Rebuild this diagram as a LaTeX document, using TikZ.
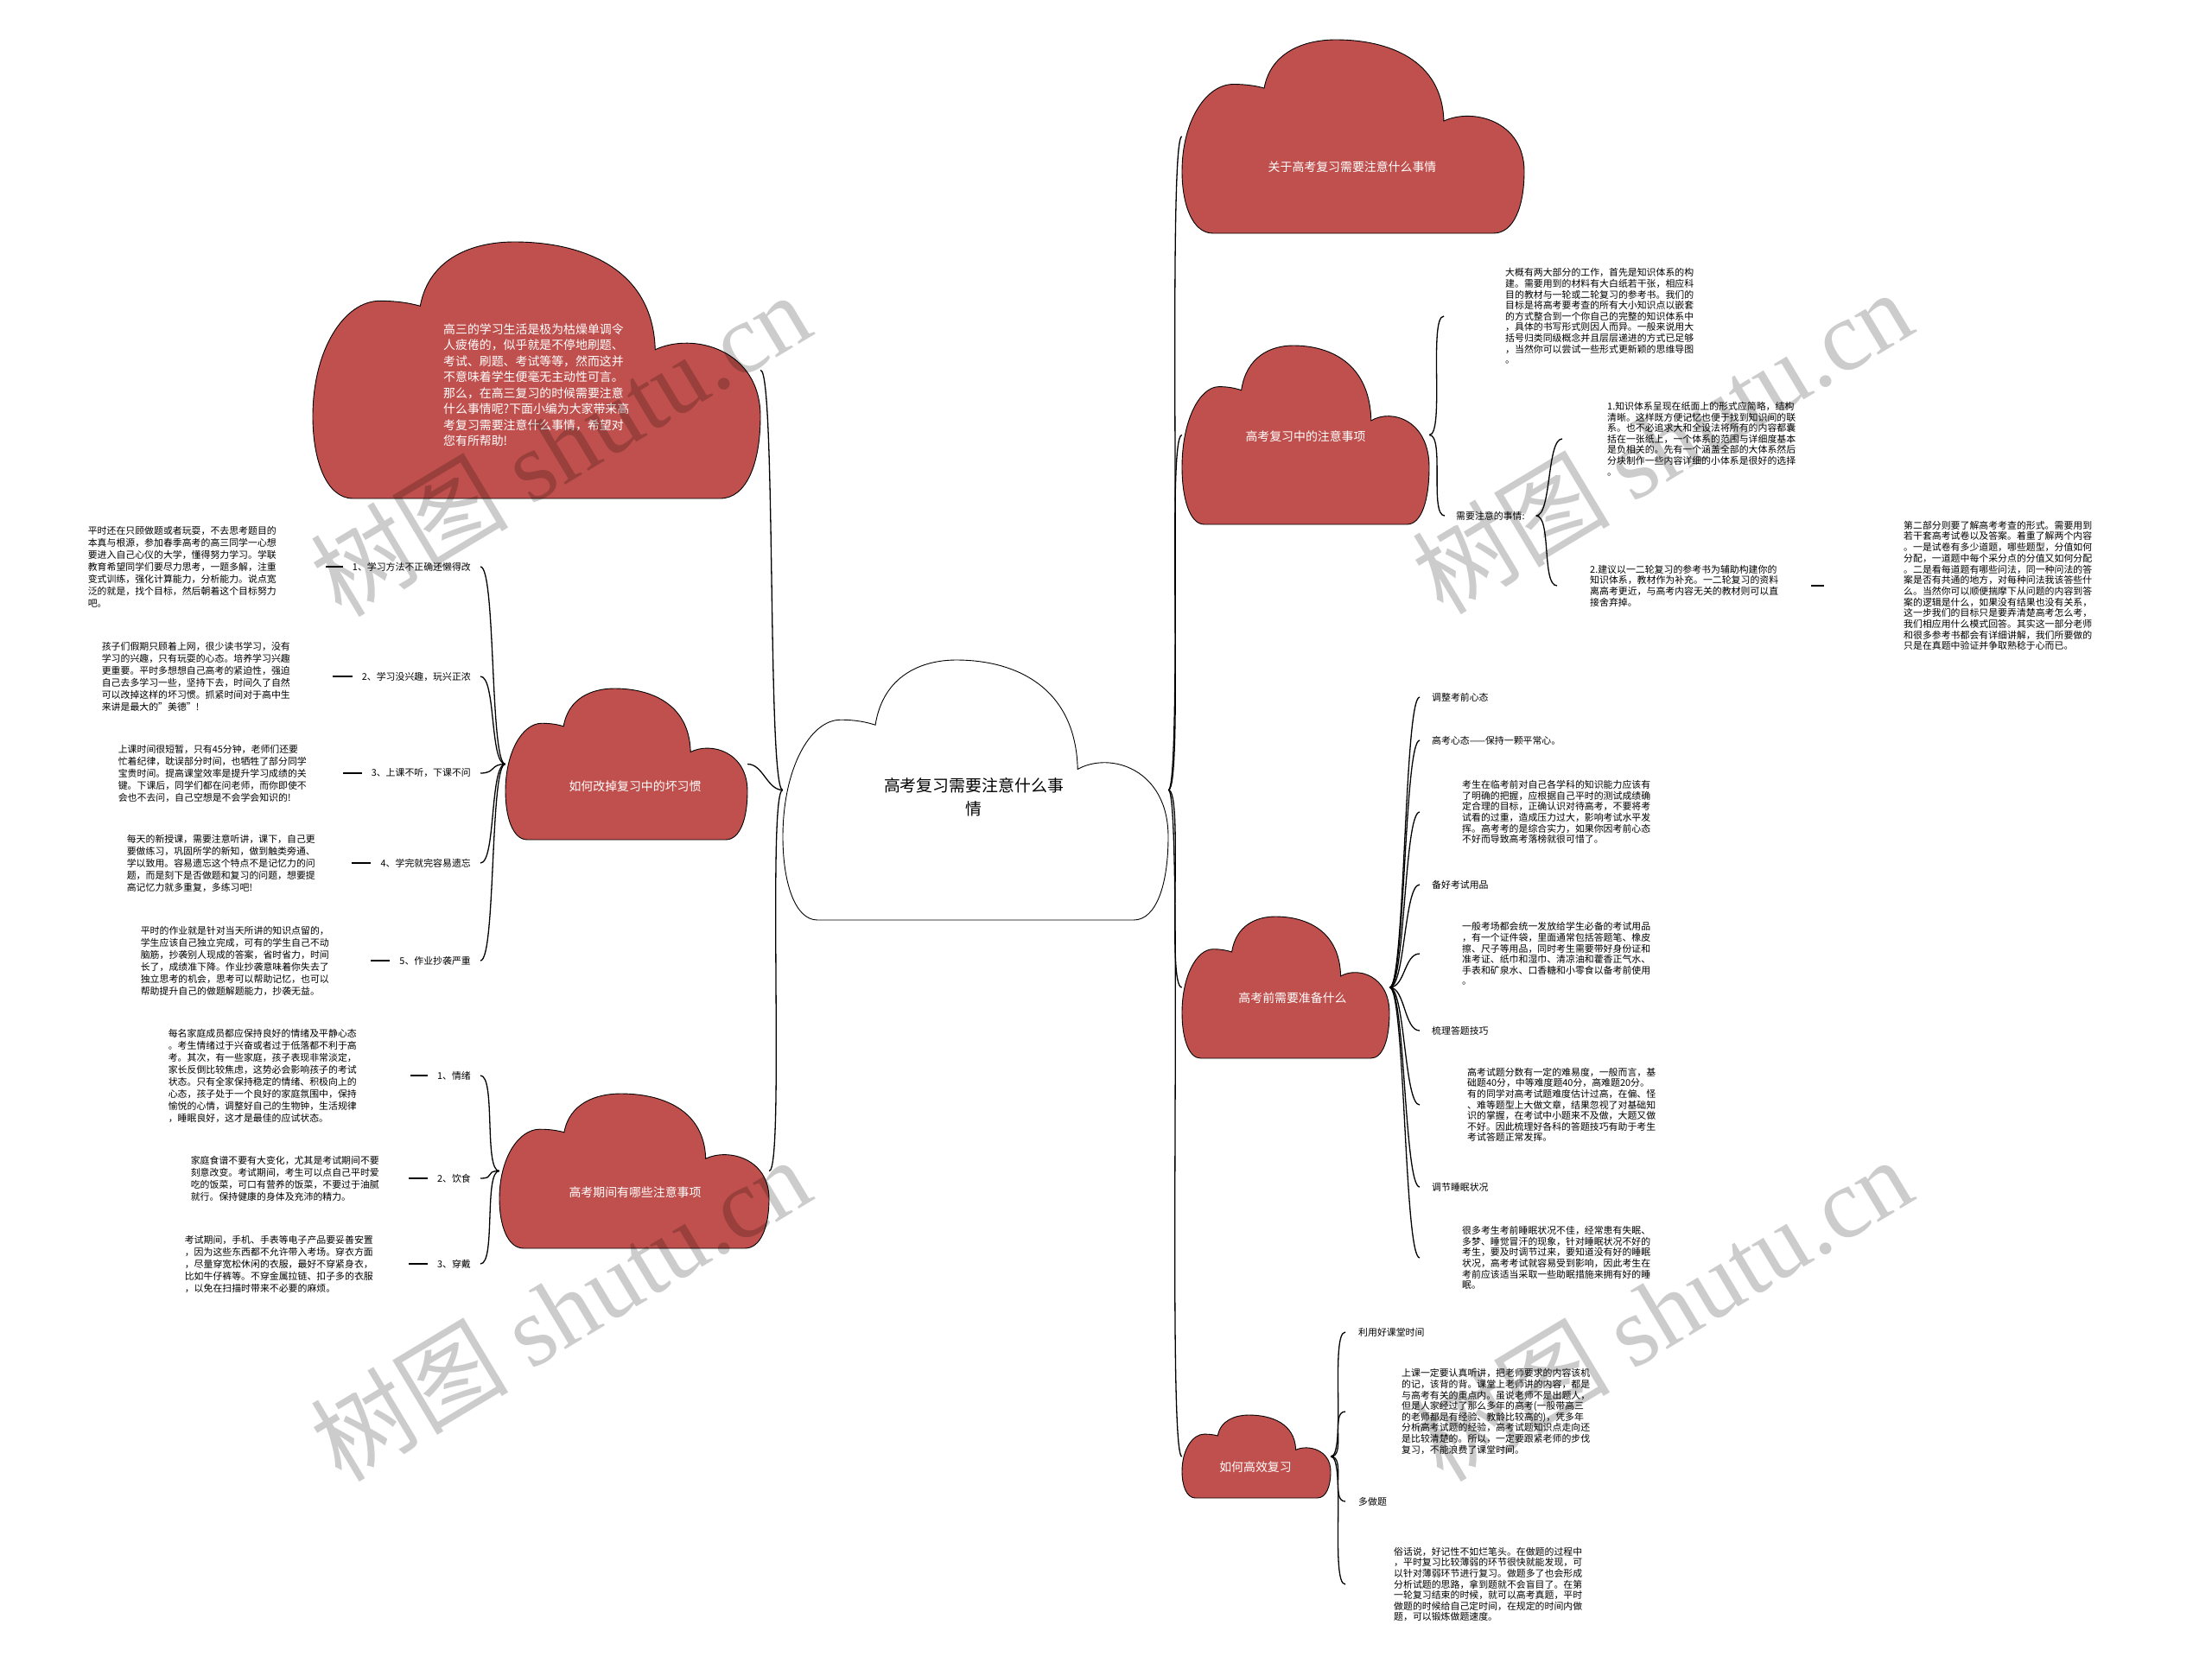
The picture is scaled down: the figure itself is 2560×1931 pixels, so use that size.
\documentclass[tikz,border=0pt]{standalone}
\usepackage{fontspec}
\setmainfont{Noto Sans CJK SC}
\newfontfamily\wmfont{Liberation Serif}
\usetikzlibrary{positioning}
\definecolor{cloudred}{RGB}{192,80,77}

\newcommand\cloud[6]{%
  \begin{scope}[shift={(#2,#3)},x=#4pt,y=-#5pt]
    \filldraw[fill=#6,draw=black,line width=0.9pt] (0.09,1) .. controls (0.03,1) and (0,0.85) .. (0,0.68)
      .. controls (0,0.42) and (0.07,0.23) .. (0.15,0.23) .. controls (0.19,0.23) and (0.22,0.24) .. (0.24,0.25)
      .. controls (0.26,0.06) and (0.36,0) .. (0.45,0) .. controls (0.6,0) and (0.76,0.1) .. (0.765,0.42)
      .. controls (0.85,0.35) and (1,0.42) .. (1,0.68) .. controls (1,0.86) and (0.97,1) .. (0.91,1) -- cycle;
  \end{scope}
  \node[cloudbox,minimum width=#4pt,minimum height=#5pt] (#1) at ({#2+#4/2},{#3+#5/2}) {};}

\begin{document}
\begin{tikzpicture}[x=1pt,y=-1pt,
  cloudbox/.style={inner sep=0pt},
  ctext/.style={text=white,align=center,font=\fontsize{13.9}{17}\selectfont},
  lab/.style={inner ysep=2pt,inner xsep=11pt,font=\fontsize{10.9}{13}\selectfont},
  ltxt/.style={align=left,inner ysep=2pt,font=\fontsize{10.9}{14}\selectfont},
  rtxt/.style={align=left,inner ysep=2pt,font=\fontsize{10.9}{12.6}\selectfont},
  link/.style={line width=1.3pt},
  stub/.style={line width=1.6pt},
  lft/.style={out=180,in=0,distance=18pt},
  rgt/.style={out=0,in=180,distance=18pt},
  wm/.style={text=black,text opacity=0.2,rotate=31,font=\fontsize{115}{115}\selectfont}]
  \fill[white] (0,0) rectangle (2560,1931);
  \useasboundingbox (0,0) rectangle (2560,1931);

  \cloud{home}{906}{764}{446}{301}{white}
  \cloud{intro}{362}{280}{518}{297}{cloudred}
  \cloud{habits}{585}{797}{280}{175}{cloudred}
  \cloud{exams}{578}{1266}{312}{179}{cloudred}
  \cloud{about}{1368}{46}{396}{224}{cloudred}
  \cloud{notes}{1368}{400}{286}{207}{cloudred}
  \cloud{prep}{1368}{1061}{240}{164}{cloudred}
  \cloud{eff}{1368}{1638}{172}{96}{cloudred}

  \node[align=center,font=\fontsize{18.9}{27}\selectfont] (homel) at (1127,923) {高考复习需要注意什么事\\情};
  \node[text=white,align=left,inner sep=0pt,anchor=north west,font=\fontsize{13.9}{18.5}\selectfont] (introl) at (513,374) {高三的学习生活是极为枯燥单调令\\人疲倦的，似乎就是不停地刷题、\\考试、刷题、考试等等，然而这并\\不意味着学生便毫无主动性可言。\\那么，在高三复习的时候需要注意\\什么事情呢?下面小编为大家带来高\\考复习需要注意什么事情，希望对\\您有所帮助!};
  \node[ctext] (habitsl) at (735,910) {如何改掉复习中的坏习惯};
  \node[ctext] (examsl) at (735,1380) {高考期间有哪些注意事项};
  \node[ctext] (aboutl) at (1565,193) {关于高考复习需要注意什么事情};
  \node[ctext] (notesl) at (1511,505) {高考复习中的注意事项};
  \node[ctext] (prepl) at (1496,1155) {高考前需要准备什么};
  \node[ctext] (effl) at (1453,1698) {如何高效复习};

  \node[lab,anchor=east] (habit1) at (556,656) {1、学习方法不正确还懒得改};
  \node[lab,anchor=east] (habit2) at (556,783) {2、学习没兴趣，玩兴正浓};
  \node[lab,anchor=east] (habit3) at (556,895) {3、上课不听，下课不问};
  \node[lab,anchor=east] (habit4) at (556,999) {4、学完就完容易遗忘};
  \node[lab,anchor=east] (habit5) at (556,1112) {5、作业抄袭严重};
  \node[lab,anchor=east] (exam1) at (556,1245) {1、情绪};
  \node[lab,anchor=east] (exam2) at (556,1364) {2、饮食};
  \node[lab,anchor=east] (exam3) at (556,1463) {3、穿戴};

  \node[ltxt,anchor=east,inner xsep=57pt] (habit1t) at (377,656) {平时还在只顾做题或者玩耍，不去思考题目的\\本真与根源，参加春季高考的高三同学一心想\\要进入自己心仪的大学，懂得努力学习。学联\\教育希望同学们要尽力思考，一题多解，注重\\变式训练，强化计算能力，分析能力。说点宽\\泛的就是，找个目标，然后朝着这个目标努力\\吧。};
  \node[ltxt,anchor=east,inner xsep=49pt] (habit2t) at (385,783) {孩子们假期只顾着上网，很少读书学习，没有\\学习的兴趣，只有玩耍的心态。培养学习兴趣\\更重要。平时多想想自己高考的紧迫性，强迫\\自己去多学习一些，坚持下去，时间久了自然\\可以改掉这样的坏习惯。抓紧时间对于高中生\\来讲是最大的"美德"!};
  \node[ltxt,anchor=east,inner xsep=42pt] (habit3t) at (397,895) {上课时间很短暂，只有45分钟，老师们还要\\忙着纪律，耽误部分时间，也牺牲了部分同学\\宝贵时间。提高课堂效率是提升学习成绩的关\\键。下课后，同学们都在问老师，而你即使不\\会也不去问，自己空想是不会学会知识的!};
  \node[ltxt,anchor=east,inner xsep=42pt] (habit4t) at (407,999) {每天的新授课，需要注意听讲，课下，自己更\\要做练习，巩固所学的新知，做到触类旁通、\\学以致用。容易遗忘这个特点不是记忆力的问\\题，而是刻下是否做题和复习的问题，想要提\\高记忆力就多重复，多练习吧!};
  \node[ltxt,anchor=east,inner xsep=48pt] (habit5t) at (429,1112) {平时的作业就是针对当天所讲的知识点留的，\\学生应该自己独立完成，可有的学生自己不动\\脑筋，抄袭别人现成的答案，省时省力，时间\\长了，成绩准下降。作业抄袭意味着你失去了\\独立思考的机会，思考可以帮助记忆，也可以\\帮助提升自己的做题解题能力，抄袭无益。};
  \node[ltxt,anchor=east,inner xsep=62pt] (exam1t) at (475,1245) {每名家庭成员都应保持良好的情绪及平静心态\\。考生情绪过于兴奋或者过于低落都不利于高\\考。其次，有一些家庭，孩子表现非常淡定，\\家长反倒比较焦虑，这势必会影响孩子的考试\\状态。只有全家保持稳定的情绪、积极向上的\\心态，孩子处于一个良好的家庭氛围中，保持\\愉悦的心情，调整好自己的生物钟，生活规律\\，睡眠良好，这才是最佳的应试状态。};
  \node[ltxt,anchor=east,inner xsep=34pt] (exam2t) at (473,1364) {家庭食谱不要有大变化，尤其是考试期间不要\\刻意改变。考试期间，考生可以点自己平时爱\\吃的饭菜，可口有营养的饭菜，不要过于油腻\\就行。保持健康的身体及充沛的精力。};
  \node[ltxt,anchor=east,inner xsep=41pt] (exam3t) at (473,1463) {考试期间，手机、手表等电子产品要妥善安置\\，因为这些东西都不允许带入考场。穿衣方面\\，尽量穿宽松休闲的衣服，最好不穿紧身衣，\\比如牛仔裤等。不穿金属拉链、扣子多的衣服\\，以免在扫描时带来不必要的麻烦。};

  \node[rtxt,anchor=west,inner xsep=71pt] (plan) at (1671,366) {大概有两大部分的工作，首先是知识体系的构\\建。需要用到的材料有大白纸若干张，相应科\\目的教材与一轮或二轮复习的参考书。我们的\\目标是将高考要考查的所有大小知识点以嵌套\\的方式整合到一个你自己的完整的知识体系中\\，具体的书写形式则因人而异。一般来说用大\\括号归类同级概念并且层层递进的方式已足够\\，当然你可以尝试一些形式更新颖的思维导图\\。};
  \node[lab,anchor=west,inner xsep=13pt] (need) at (1672,597) {需要注意的事情:};
  \node[rtxt,anchor=west,inner xsep=52pt] (know1) at (1808,508) {1.知识体系呈现在纸面上的形式应简略，结构\\清晰。这样既方便记忆也便于找到知识间的联\\系。也不必追求大和全设法将所有的内容都囊\\括在一张纸上，一个体系的范围与详细度基本\\是负相关的。先有一个涵盖全部的大体系然后\\分块制作一些内容详细的小体系是很好的选择\\。};
  \node[rtxt,anchor=west,inner xsep=38pt] (know2) at (1802,678) {2.建议以一二轮复习的参考书为辅助构建你的\\知识体系，教材作为补充。一二轮复习的资料\\离高考更近，与高考内容无关的教材则可以直\\接舍弃掉。};
  \node[rtxt,anchor=west,inner xsep=92pt,font=\fontsize{10.9}{12.7}\selectfont] (part2) at (2111,678) {第二部分则要了解高考考查的形式。需要用到\\若干套高考试卷以及答案。着重了解两个内容\\。一是试卷有多少道题，哪些题型，分值如何\\分配，一道题中每个采分点的分值又如何分配\\。二是看每道题有哪些问法，同一种问法的答\\案是否有共通的地方，对每种问法我该答些什\\么。当然你可以顺便揣摩下从问题的内容到答\\案的逻辑是什么，如果没有结果也没有关系，\\这一步我们的目标只是要弄清楚高考怎么考，\\我们相应用什么模式回答。其实这一部分老师\\和很多参考书都会有详细讲解，我们所要做的\\只是在真题中验证并争取熟稔于心而已。};

  \node[lab,anchor=west,inner xsep=14pt] (mind) at (1643,807) {调整考前心态};
  \node[lab,anchor=west,inner xsep=14pt] (calm) at (1643,857) {高考心态——保持一颗平常心。};
  \node[rtxt,anchor=west,inner xsep=49pt] (calmt) at (1643,940) {考生在临考前对自己各学科的知识能力应该有\\了明确的把握，应根据自己平时的测试成绩确\\定合理的目标，正确认识对待高考，不要将考\\试看的过重，造成压力过大，影响考试水平发\\挥。高考考的是综合实力，如果你因考前心态\\不好而导致高考落榜就很可惜了。};
  \node[lab,anchor=west,inner xsep=14pt] (supply) at (1643,1024) {备好考试用品};
  \node[rtxt,anchor=west,inner xsep=49pt] (supplyt) at (1643,1104) {一般考场都会统一发放给学生必备的考试用品\\，有一个证件袋，里面通常包括答题笔、橡皮\\擦、尺子等用品，同时考生需要带好身份证和\\准考证、纸巾和湿巾、清凉油和藿香正气水、\\手表和矿泉水、口香糖和小零食以备考前使用\\。};
  \node[lab,anchor=west,inner xsep=14pt] (skill) at (1643,1193) {梳理答题技巧};
  \node[rtxt,anchor=west,inner xsep=55pt] (skillt) at (1643,1279) {高考试题分数有一定的难易度，一般而言，基\\础题40分，中等难度题40分，高难题20分。\\有的同学对高考试题难度估计过高，在偏、怪\\、难等题型上大做文章，结果忽视了对基础知\\识的掌握，在考试中小题来不及做，大题又做\\不好。因此梳理好各科的答题技巧有助于考生\\考试答题正常发挥。};
  \node[lab,anchor=west,inner xsep=14pt] (sleep) at (1643,1374) {调节睡眠状况};
  \node[rtxt,anchor=west,inner xsep=49pt] (sleept) at (1643,1456) {很多考生考前睡眠状况不佳，经常患有失眠、\\多梦、睡觉冒汗的现象，针对睡眠状况不好的\\考生，要及时调节过来，要知道没有好的睡眠\\状况，高考考试就容易受到影响，因此考生在\\考前应该适当采取一些助眠措施来拥有好的睡\\眠。};

  \node[lab,anchor=west,inner xsep=15pt] (class) at (1557,1542) {利用好课堂时间};
  \node[rtxt,anchor=west,inner xsep=65pt] (classt) at (1557,1634) {上课一定要认真听讲，把老师要求的内容该机\\的记，该背的背。课堂上老师讲的内容，都是\\与高考有关的重点内。虽说老师不是出题人，\\但是人家经过了那么多年的高考(一般带高三\\的老师都是有经验、教龄比较高的)，凭多年\\分析高考试题的经验，高考试题知识点走向还\\是比较清楚的。所以，一定要跟紧老师的步伐\\复习，不能浪费了课堂时间。};
  \node[lab,anchor=west,inner xsep=15pt] (drill) at (1557,1738) {多做题};
  \node[rtxt,anchor=west,inner xsep=56pt] (drillt) at (1557,1834) {俗话说，好记性不如烂笔头。在做题的过程中\\，平时复习比较薄弱的环节很快就能发现，可\\以针对薄弱环节进行复习。做题多了也会形成\\分析试题的思路，拿到题就不会盲目了。在第\\一轮复习结束的时候，就可以高考真题，平时\\做题的时候给自己定时间，在规定的时间内做\\题，可以锻炼做题速度。};

  \draw[link] (home.west) to[lft] (intro.east);
  \draw[link] (home.west) to[lft] (habits.east);
  \draw[link] (home.west) to[lft] (exams.east);
  \draw[link] (home.east) to[rgt] (about.west);
  \draw[link] (home.east) to[rgt] (notes.west);
  \draw[link] (home.east) to[rgt] (prep.west);
  \draw[link] (home.east) to[rgt] (eff.west);

  \draw[link] (habits.west) to[lft] (habit1.east);
  \draw[link] (habits.west) to[lft] (habit2.east);
  \draw[link] (habits.west) to[lft] (habit3.east);
  \draw[link] (habits.west) to[lft] (habit4.east);
  \draw[link] (habits.west) to[lft] (habit5.east);
  \draw[link] (exams.west) to[lft] (exam1.east);
  \draw[link] (exams.west) to[lft] (exam2.east);
  \draw[link] (exams.west) to[lft] (exam3.east);
  \draw[stub] (habit1.west) -- (habit1t.east);
  \draw[stub] (habit2.west) -- (habit2t.east);
  \draw[stub] (habit3.west) -- (habit3t.east);
  \draw[stub] (habit4.west) -- (habit4t.east);
  \draw[stub] (habit5.west) -- (habit5t.east);
  \draw[stub] (exam1.west) -- (exam1t.east);
  \draw[stub] (exam2.west) -- (exam2t.east);
  \draw[stub] (exam3.west) -- (exam3t.east);

  \draw[link] (notes.east) to[rgt] (plan.west);
  \draw[link] (notes.east) to[rgt] (need.west);
  \draw[link] (need.east) to[rgt] (know1.west);
  \draw[link] (need.east) to[rgt] (know2.west);
  \draw[stub] (know2.east) -- (part2.west);

  \draw[link] (prep.east) to[rgt] (mind.west);
  \draw[link] (prep.east) to[rgt] (calm.west);
  \draw[link] (prep.east) to[rgt] (calmt.west);
  \draw[link] (prep.east) to[rgt] (supply.west);
  \draw[link] (prep.east) to[rgt] (supplyt.west);
  \draw[link] (prep.east) to[rgt] (skill.west);
  \draw[link] (prep.east) to[rgt] (skillt.west);
  \draw[link] (prep.east) to[rgt] (sleep.west);
  \draw[link] (prep.east) to[rgt] (sleept.west);

  \draw[link] (eff.east) to[rgt] (class.west);
  \draw[link] (eff.east) to[rgt] (classt.west);
  \draw[link] (eff.east) to[rgt] (drill.west);
  \draw[link] (eff.east) to[rgt] (drillt.west);

  \foreach \i/\wx/\wy in {1/648/514,2/1923/511,3/648/1515,4/1923/1515}
    \node[wm] (wm\i) at (\wx,\wy) {树图 {\wmfont shutu.cn}};
\end{tikzpicture}
\end{document}
